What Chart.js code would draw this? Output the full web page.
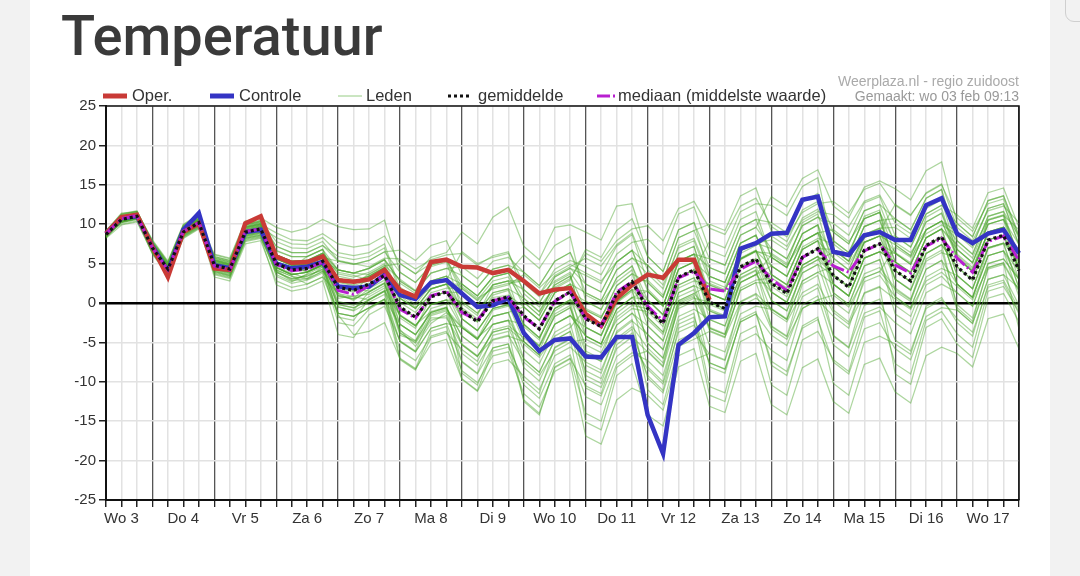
<!DOCTYPE html>
<html>
<head>
<meta charset="utf-8">
<script src="https://cdn.jsdelivr.net/npm/chart.js@4.4.0/dist/chart.umd.min.js"></script>
<style>
  html, body { margin: 0; padding: 0; }
  body { width: 1080px; height: 576px; background: #f2f2f2; position: relative; overflow: hidden; }
  #card { position: absolute; left: 30px; top: 0; width: 1020px; height: 576px; background: #fff; }
  #corner { position: absolute; left: 1065px; top: -30px; width: 40px; height: 50px; border: 1px solid #cfcfcf; border-radius: 9px; }
  #chart { position: absolute; left: 0; top: 0; }
</style>
</head>
<body>
<div id="card"></div>
<div id="corner"></div>
<canvas id="chart" width="1080" height="576"></canvas>
<script>
// day labels, one per day (placed at 12h)
const dayLabels = ["Wo 3", "Do 4", "Vr 5", "Za 6", "Zo 7", "Ma 8", "Di 9", "Wo 10",
  "Do 11", "Vr 12", "Za 13", "Zo 14", "Ma 15", "Di 16", "Wo 17"];

// 6-hourly values, first point Wo 3 06h
const oper = [8.8,10.9,11.2, 7.1,3.3,9.0,10.1, 4.4,4.2,10.1,11.0, 5.9,5.1,5.2,5.9, 2.9,2.7,3.0,4.2,
  1.6,0.8,5.2,5.5, 4.6,4.5,3.8,4.2, 2.8,1.2,1.7,1.9, -1.4,-2.9,0.6,2.3, 3.6,3.2,5.5,5.5, 0.4];

const controle = [8.8,10.8,11.0, 7.2,4.0,9.3,11.4, 4.8,4.4,9.0,9.3, 5.0,4.4,4.6,5.2, 2.1,1.9,2.1,3.6,
  1.0,0.5,2.6,2.9, 1.2,-0.5,-0.3,0.6, -3.8,-6.1,-4.7,-4.5, -6.8,-6.9,-4.3,-4.3, -14.2,-19.1,-5.3,-3.8,
  -1.8,-1.7,6.9,7.6, 8.8,8.9,13.1,13.5, 6.5,6.1,8.6,9.0, 8.0,8.0,12.4,13.3, 8.8,7.6,8.8,9.3, 6.3];

const gemiddelde = [8.7,10.6,11.0, 7.0,4.3,9.0,10.2, 4.8,4.3,9.0,9.4, 5.0,4.2,4.4,5.3, 2.0,1.6,2.4,3.5,
  -0.5,-1.8,0.8,1.4, -0.9,-2.4,0.3,0.8, -1.6,-3.3,0.3,1.4, -2.0,-3.0,1.2,2.7, -0.7,-2.6,3.3,4.2,
  0.1,-0.7,4.6,5.6, 2.5,1.2,5.8,6.9, 3.5,2.0,6.7,7.5, 4.1,2.8,7.3,8.4, 4.6,2.9,8.0,8.6, 4.1];

const mediaan = [8.8,10.7,11.1, 7.0,4.2,9.1,10.2, 4.7,4.2,9.1,9.4, 4.9,4.1,4.3,5.2, 1.6,1.1,2.2,3.5,
  -0.8,-1.9,0.9,1.5, -1.2,-2.2,0.3,0.7, -1.8,-3.2,0.2,1.4, -2.0,-2.9,1.4,2.7, -0.4,-2.3,3.2,4.0,
  1.8,1.5,4.3,5.3, 3.0,1.6,5.8,6.8, 4.7,3.9,6.6,7.5, 4.8,3.8,7.2,8.2, 5.7,3.9,7.8,8.5, 5.4];

// ensemble members (leden)
const lid01 = [8.9,10.8,11.2, 7.3,4.6,9.3,10.5, 4.4,3.9,8.6,9.0, 6.1,5.3,5.4,6.3, 4.2,3.8,4.4,5.5, 2.8,1.5,3.8,4.4, 4.6,3.1,5.3,5.8, 3.9,2.2,5.3,6.4, 1.3,0.3,4.2,5.7, 3.7,1.8,7.3,8.2, 3.4,2.6,7.6,8.6, 4.7,3.4,7.8,8.9, 4.6,3.1,7.7,8.5, 7.4,6.0,10.3,11.4, 6.8,5.1,10.0,10.6, 6.3];
const lid02 = [8.4,10.3,10.7, 6.5,3.8,8.5,9.7, 3.8,3.3,8.0,8.4, 3.9,3.1,3.4,4.3, -1.3,-1.7,-0.6,0.5, -6.0,-7.3,-4.2,-3.6, -8.6,-10.1,-6.7,-6.2, -11.5,-13.2,-8.7,-7.6, -16.9,-17.9,-12.3,-10.8, -11.7,-13.6,-6.7,-5.8, -13.1,-13.9,-7.4,-6.4, -12.9,-14.2,-8.2,-7.1, -12.5,-14.0,-7.8,-7.0, -11.3,-12.7,-6.7,-5.6, -6.4,-8.1,-2.0,-1.4, -5.8];
const lid03 = [8.7,10.6,11.1, 7.5,4.8,9.5,10.7, 5.6,5.1,9.8,10.2, 5.2,4.6,4.0,4.9, 3.1,2.7,3.4,4.5, 1.7,0.4,2.8,3.4, -0.9,-2.4,0.3,0.8, -3.8,-5.5,-1.7,-0.6, -6.4,-7.4,-2.8,-1.3, -4.0,-5.9,0.3,1.2, 2.3,1.5,6.6,7.6, 6.9,5.6,9.8,10.9, 9.0,7.5,11.7,12.5, 7.4,6.0,10.3,11.4, 5.7,4.0,9.0,9.6, 4.1];
const lid04 = [8.5,10.3,10.8, 6.7,4.0,8.7,9.9, 5.3,4.8,9.5,9.9, 4.5,3.6,3.9,4.8, 0.9,0.5,1.4,2.5, -2.7,-4.0,-1.2,-0.6, -5.3,-6.8,-3.7,-3.2, -7.1,-8.8,-4.7,-3.6, -8.6,-9.6,-4.8,-3.3, -9.5,-11.4,-4.7,-3.8, -6.5,-7.3,-1.4,-0.4, -0.8,-2.1,2.8,3.9, 2.4,0.9,5.7,6.5, 5.2,3.8,8.3,9.4, 6.8,5.1,10.0,10.6, 7.4];
const lid05 = [9.1,11.4,11.6, 7.8,5.1,9.8,11.0, 5.4,4.9,9.6,10.0, 8.9,8.0,7.9,8.8, 7.5,7.1,7.4,8.5, 5.0,3.7,5.8,6.4, 9.0,7.5,10.9,12.2, 7.2,5.5,9.6,9.9, 9.0,8.0,12.3,12.6, 5.9,4.0,9.3,10.2, 5.6,4.8,9.6,10.6, 10.2,8.9,12.8,13.9, 9.0,7.5,11.7,12.5, 10.7,9.3,13.3,14.4, 7.9,6.2,11.0,11.6, 8.5];
const lid06 = [8.8,10.0,10.4, 6.4,3.7,8.4,9.6, 4.0,3.5,8.2,8.6, 3.9,3.1,3.4,4.3, -0.2,-0.6,0.4,1.5, -1.6,-2.9,-0.2,0.4, 0.2,-1.3,1.3,1.8, 0.6,-1.1,2.3,3.4, -0.9,-1.9,2.2,3.7, -1.8,-3.7,2.3,3.2, -3.2,-4.0,1.6,2.6, -3.0,-4.3,0.8,1.9, -4.2,-5.7,-0.3,0.5, -4.7,-6.1,-0.7,0.4, -2.0,-3.7,2.0,2.6, -1.4];
const lid07 = [8.6,10.8,11.2, 7.2,4.5,9.2,10.4, 4.6,4.1,8.8,9.2, 5.6,4.8,4.9,5.8, 2.0,1.6,2.4,3.5, -1.6,-2.9,-0.2,0.4, -3.1,-4.6,-1.7,-1.2, -0.5,-2.2,1.3,2.4, 1.3,0.3,4.2,5.7, 4.8,2.9,8.3,9.2, 10.0,9.2,13.6,14.6, 9.1,7.8,11.8,12.9, 7.9,6.4,10.7,11.5, 6.3,4.9,9.3,10.4, 7.9,6.2,11.0,11.6, 5.2];
const lid08 = [9.0,10.7,11.1, 7.1,4.4,9.1,10.3, 5.9,5.4,10.0,10.4, 3.4,2.5,2.9,3.8, -1.5,-4.0,-3.6,-2.5, -7.1,-8.4,-5.2,-4.6, -9.7,-11.2,-7.7,-7.2, -9.3,-11.0,-6.7,-5.6, -7.5,-8.5,-3.8,-2.3, -4.0,-5.9,0.3,1.2, -1.0,-1.8,3.6,4.6, 3.6,2.3,6.8,7.9, 5.7,4.2,8.7,9.5, 4.1,2.7,7.3,8.4, 2.4,0.7,6.0,6.6, 3.0];
const lid09 = [8.3,10.4,10.8, 6.8,4.1,8.8,10.0, 5.1,4.6,9.3,9.7, 6.1,5.3,5.4,6.3, 3.1,2.7,3.4,4.5, -0.5,-1.8,0.8,1.4, 1.3,-0.2,2.3,2.8, 2.8,1.1,4.3,5.4, 4.6,3.6,7.2,8.7, 2.6,0.7,6.3,7.2, 0.1,-0.7,4.6,5.6, 0.3,-1.0,3.8,4.9, 3.5,2.0,6.7,7.5, 6.3,4.9,9.3,10.4, 9.0,7.3,12.0,12.6, 7.4];
const lid10 = [8.9,11.2,11.6, 7.6,4.9,9.6,10.8, 4.2,3.7,8.4,8.8, 5.0,4.2,4.4,5.3, 0.9,0.5,1.4,2.5, -3.8,-5.1,-2.2,-1.6, -6.4,-7.9,-4.7,-4.2, -4.9,-6.6,-2.7,-1.6, -4.2,-5.2,-0.8,0.7, 0.4,-1.5,4.3,5.2, 3.4,2.6,7.6,8.6, 3.6,2.3,6.8,7.9, 1.3,-0.2,4.7,5.5, -0.3,-1.7,3.3,4.4, 3.5,1.8,7.0,7.6, 5.2];
const lid11 = [9.2,11.3,11.6, 8.0,5.3,10.0,11.2, 5.0,4.5,9.2,9.6, 5.6,4.8,4.9,5.8, 5.3,4.9,5.4,6.5, 3.9,2.6,4.8,5.4, 2.4,0.9,3.3,3.8, -0.5,-2.2,1.3,2.4, -3.1,-4.1,0.2,1.7, 1.5,-0.4,5.3,6.2, 4.5,3.7,8.6,9.6, 13.5,12.2,15.8,16.9, 12.3,10.8,14.7,15.5, 14.5,13.1,16.8,17.9, 10.1,8.4,13.0,13.6, 8.5];
const lid12 = [8.5,10.9,11.3, 7.4,4.7,9.4,10.6, 3.6,3.1,7.8,8.2, 4.5,3.6,3.9,4.8, -0.5,-1.0,0.1,1.1, -4.9,-6.2,-3.2,-2.6, -7.5,-9.0,-5.7,-5.2, -10.4,-12.1,-7.7,-6.6, -11.9,-12.9,-7.8,-6.3, -7.3,-9.2,-2.7,-1.8, -7.6,-8.4,-2.4,-1.4, -7.4,-8.7,-3.2,-2.1, -7.5,-9.0,-3.3,-2.5, -5.8,-7.2,-1.7,-0.6, -0.9,-2.6,3.0,3.6, 1.9];
const lid13 = [8.8,10.5,10.9, 6.9,4.2,8.9,10.1, 6.1,5.6,10.3,10.7, 6.7,5.9,5.9,6.8, 4.2,3.8,4.4,5.5, 0.6,-0.7,1.8,2.4, -2.0,-3.5,-0.7,-0.2, -1.6,-3.3,0.3,1.4, 0.2,-0.8,3.2,4.7, 0.4,-1.5,4.3,5.2, -2.1,-2.9,2.6,3.6, 1.4,0.1,4.8,5.9, 4.6,3.1,7.7,8.5, 3.0,1.6,6.3,7.4, 4.6,2.9,8.0,8.6, 3.0];
const lid14 = [9.0,10.4,10.8, 6.2,3.5,8.2,9.4, 5.2,4.7,9.4,9.8, 4.2,3.4,3.0,4.0, 2.0,1.6,2.4,3.5, 0.6,-0.7,1.8,2.4, 2.4,0.9,3.3,3.8, 0.6,-1.1,2.3,3.4, -3.1,-4.1,0.2,1.7, -5.1,-7.0,-0.7,0.2, -5.4,-6.2,-0.4,0.6, -0.8,-2.1,2.8,3.9, 4.6,3.1,7.7,8.5, 8.5,7.1,11.3,12.4, 10.1,8.4,13.0,13.6, 8.5];
const lid15 = [8.4,10.9,11.3, 7.3,4.6,9.3,10.5, 4.5,4.0,8.7,9.1, 5.3,4.0,4.8,5.7, -0.2,-0.6,0.4,1.5, -3.4,-5.5,-2.6,-1.2, -3.1,-4.6,-1.7,-1.2, -6.0,-7.7,-3.7,-2.6, -9.7,-10.7,-5.8,-4.3, -6.2,-8.1,-1.7,-0.8, -2.1,-2.9,2.6,3.6, 4.7,3.4,7.8,8.9, 6.8,5.3,9.7,10.5, 5.2,3.8,8.3,9.4, 3.5,1.8,7.0,7.6, 1.9];
const lid16 = [9.1,11.1,11.5, 7.5,4.8,9.5,10.7, 6.2,5.7,10.4,10.8, 9.6,9.0,9.5,10.6, 9.7,9.3,9.4,10.5, 3.9,2.6,4.8,5.4, 1.3,-0.2,2.3,2.8, 1.7,0.0,3.3,4.4, 3.5,2.5,6.2,7.7, 8.1,6.2,11.3,12.2, 6.7,5.9,10.6,11.6, 5.8,4.5,8.8,9.9, 5.7,4.2,8.7,9.5, 9.6,8.2,12.3,13.4, 9.0,7.3,12.0,12.6, 7.4];
const lid17 = [8.7,10.2,10.6, 6.6,3.9,8.6,9.8, 3.3,2.8,7.5,7.9, 2.8,2.0,2.4,3.3, -1.3,-1.7,-0.6,0.5, -2.7,-4.0,-1.2,-0.6, -4.2,-5.7,-2.7,-2.2, -8.2,-9.9,-5.7,-4.6, -6.4,-7.4,-2.8,-1.3, -2.9,-4.8,1.3,2.2, 1.2,0.4,5.6,6.6, 5.8,4.5,8.8,9.9, 2.4,0.9,5.7,6.5, 0.8,-0.6,4.3,5.4, -0.9,-2.6,3.0,3.6, -0.3];
const lid18 = [8.9,11.3,11.7, 7.7,5.0,9.7,10.9, 5.7,5.2,9.9,10.3, 5.6,4.8,4.9,5.8, 3.1,2.7,3.4,4.5, 1.7,0.4,2.8,3.4, 0.2,-1.3,1.3,1.8, -2.7,-4.4,-0.7,0.4, -2.0,-3.0,1.2,2.7, -2.9,-4.8,1.3,2.2, -3.2,-4.0,1.6,2.6, 2.5,1.2,5.8,6.9, 6.8,5.3,9.7,10.5, 10.7,9.3,13.3,14.4, 6.8,5.1,10.0,10.6, 4.1];
const lid19 = [8.6,10.7,11.1, 7.1,4.4,9.1,10.3, 5.4,4.9,9.6,10.0, 4.5,3.6,3.9,4.8, 1.2,0.3,1.8,2.9, -0.5,-1.8,0.8,1.4, -2.0,-3.5,-0.7,-0.2, -3.8,-5.5,-1.7,-0.6, -5.3,-6.3,-1.8,-0.3, -0.7,-2.6,3.3,4.2, 2.3,1.5,6.6,7.6, 8.0,6.7,10.8,11.9, 7.9,6.4,10.7,11.5, 4.1,2.7,7.3,8.4, 2.4,0.7,6.0,6.6, 0.8];
const lid20 = [9.0,10.4,10.8, 6.8,4.1,8.8,10.0, 4.3,3.8,8.5,8.9, 6.1,5.3,5.4,6.3, 4.2,3.8,4.4,5.5, 2.8,1.5,3.8,4.4, 3.5,2.0,4.3,4.8, 1.7,0.0,3.3,4.4, 2.4,1.4,5.2,6.7, 1.5,-0.4,5.3,6.2, 1.2,0.4,5.6,6.6, 1.4,0.1,4.8,5.9, 0.2,-1.3,3.7,4.5, 1.9,0.5,5.3,6.4, 5.7,4.0,9.0,9.6, 6.3];
const lid21 = [8.7,10.7,11.1, 7.2,4.5,9.2,10.4, 4.9,4.4,9.1,9.5, 5.0,4.2,4.4,5.3, 0.6,0.9,1.1,2.2, -1.6,-2.9,-0.2,0.4, -0.9,-2.4,0.3,0.8, -2.7,-4.4,-0.7,0.4, -4.2,-5.2,-0.8,0.7, -1.8,-3.7,2.3,3.2, 0.1,-0.7,4.6,5.6, 1.4,0.1,4.8,5.9, 3.5,2.0,6.7,7.5, 3.0,1.6,6.3,7.4, 4.6,2.9,8.0,8.6, 4.1];
const lid22 = [8.5,10.6,11.0, 7.0,4.3,9.0,10.2, 5.0,4.5,9.2,9.6, 5.6,4.8,4.9,5.8, 2.6,2.2,2.9,4.0, 0.6,-0.7,1.8,2.4, -0.6,-2.0,0.7,1.0, -0.5,-2.2,1.3,2.4, -2.0,-3.0,1.2,2.7, 0.4,-1.5,4.3,5.2, 1.2,0.4,5.6,6.6, 2.5,1.2,5.8,6.9, 4.6,3.1,7.7,8.5, 4.1,2.7,7.3,8.4, 5.7,4.0,9.0,9.6, 5.2];
const lid23 = [8.8,10.3,10.7, 6.7,4.0,8.7,9.9, 5.5,5.0,9.7,10.1, 4.0,2.8,3.1,4.6, 0.2,-0.3,0.8,1.9, -4.1,-4.8,-1.9,-1.9, -5.3,-6.8,-3.7,-3.2, -4.9,-6.6,-2.7,-1.6, -3.1,-4.1,0.2,1.7, -0.7,-2.6,3.3,4.2, -1.0,-1.8,3.6,4.6, 0.3,-1.0,3.8,4.9, -0.9,-2.4,2.7,3.5, 0.8,-0.6,4.3,5.4, 2.4,0.7,6.0,6.6, 4.1];
const lid24 = [9.2,11.0,11.4, 7.4,4.7,9.4,10.6, 5.9,5.4,10.1,10.5, 7.2,6.4,6.4,7.3, 5.3,4.9,5.4,6.5, 6.7,5.4,7.3,7.9, 3.5,2.0,4.3,4.8, 3.9,2.2,5.3,6.4, 2.4,1.4,5.2,6.7, 4.8,2.9,8.3,9.2, 4.5,3.7,8.6,9.6, 6.9,5.6,9.8,10.9, 10.1,8.6,12.7,13.5, 8.5,7.1,11.3,12.4, 11.2,9.5,14.0,14.6, 9.6];
const lid25 = [8.2,9.9,10.3, 6.3,3.6,8.3,9.5, 4.7,4.2,8.9,9.3, 4.7,4.4,4.0,4.9, 2.0,1.6,2.4,3.5, -2.7,-4.0,-1.2,-0.6, -4.2,-5.7,-2.7,-2.2, -2.7,-4.4,-0.7,0.4, -0.9,-1.9,2.2,3.7, 2.6,0.7,6.3,7.2, 1.2,0.4,5.6,6.6, 4.7,3.4,7.8,8.9, 2.4,0.9,5.7,6.5, 6.3,4.9,9.3,10.4, 5.7,4.0,9.0,9.6, 6.3];
const lid26 = [8.9,11.2,11.6, 7.9,5.2,9.9,11.1, 3.9,3.4,8.1,8.5, 3.6,2.7,3.7,4.6, -1.3,-1.7,-0.6,0.5, -4.9,-6.2,-3.2,-2.6, -3.1,-4.6,-1.7,-1.2, -7.1,-8.8,-4.7,-3.6, -10.8,-11.8,-6.8,-5.3, -8.4,-10.3,-3.7,-2.8, -7.6,-8.4,-2.4,-1.4, -4.1,-5.4,-0.2,0.9, -5.3,-6.8,-1.3,-0.5, -2.5,-3.9,1.3,2.4, 1.3,-0.4,5.0,5.6, 3.0];
const lid27 = [9.0,10.9,11.3, 6.8,4.1,8.8,10.0, 5.3,4.8,9.5,9.9, 7.2,6.4,6.4,7.3, 5.9,5.5,5.9,7.0, 1.2,-0.2,2.3,2.9, -2.0,-3.5,-0.7,-0.2, -4.9,-6.6,-2.7,-1.6, -4.2,-5.2,-0.8,0.7, 1.5,-0.4,5.3,6.2, 5.6,4.8,9.6,10.6, 5.8,4.5,8.8,9.9, 1.3,-0.2,4.7,5.5, -1.4,-2.7,2.3,3.4, 1.3,-0.4,5.0,5.6, 3.0];
const lid28 = [8.3,10.2,10.6, 7.3,4.6,9.3,10.5, 4.1,3.6,8.3,8.7, 4.2,3.4,2.4,3.3, 1.2,0.8,0.4,1.5, 2.5,1.2,2.3,2.9, 6.5,5.0,5.8,6.3, 2.5,0.8,2.8,3.9, 1.0,0.0,2.7,4.2, -2.1,-4.0,0.8,1.7, -3.5,-4.3,0.1,1.1, -3.3,-4.6,-0.7,0.4, 1.0,-0.5,3.2,4.0, 7.1,5.8,8.8,9.9, 8.7,7.0,10.5,11.1, 9.3];
const lid29 = [8.8,10.7,11.1, 7.6,4.9,9.6,10.8, 5.1,4.6,9.3,9.7, 5.3,4.5,5.9,6.8, 1.8,1.4,3.4,4.5, -1.9,-3.2,0.8,1.4, -0.1,-1.6,2.3,2.8, -3.0,-4.7,0.3,1.4, -6.1,-7.1,-1.3,0.2, -8.1,-10.0,-2.2,-1.3, -10.6,-11.4,-3.9,-2.9, -10.4,-11.7,-4.7,-3.6, -7.2,-8.7,-1.8,-1.0, -7.7,-9.0,-2.2,-1.1, -3.9,-5.6,1.5,2.1, -1.1];
const lid30 = [8.6,10.5,10.9, 6.5,3.8,8.5,9.7, 5.7,5.2,9.9,10.3, 6.1,5.3,4.6,5.5, 4.2,3.8,3.6,4.7, 5.0,3.7,5.0,5.6, 1.8,0.3,2.0,2.5, 2.8,1.1,3.5,4.6, 5.7,4.7,7.4,8.9, 4.2,2.3,7.0,7.9, 2.8,2.0,6.3,7.3, 8.5,7.2,10.5,11.6, 11.2,9.7,12.9,13.7, 10.1,8.8,12.0,13.1, 6.2,4.5,8.7,9.3, 4.6];
const lid31 = [8.9,10.8,11.2, 7.1,4.4,9.1,10.3, 3.7,3.2,7.9,8.3, 2.3,1.5,1.9,2.8, -4.0,-4.4,-1.5,-0.4, -4.8,-6.1,-1.6,-1.0, -7.4,-8.9,-4.1,-3.6, -12.5,-14.2,-8.1,-7.0, -14.0,-15.0,-8.2,-6.7, -6.1,-8.0,-0.1,0.8, -3.1,-3.9,3.2,4.2, -2.9,-4.2,2.4,3.5, -4.1,-5.6,1.3,2.1, -9.0,-10.3,-3.1,-2.0, -5.2,-6.9,0.6,1.2, -2.4];
const lid32 = [8.4,10.3,10.7, 7.4,4.7,9.4,10.6, 5.0,4.5,9.2,9.6, 8.3,7.5,7.4,8.3, 6.4,6.0,6.4,7.5, 1.7,0.4,2.8,3.4, 2.4,0.9,3.3,3.8, 6.1,4.4,7.3,8.4, 0.2,-0.8,3.2,4.7, -0.7,-2.6,3.3,4.2, 7.8,7.0,11.6,12.6, 12.4,11.1,14.8,15.9, 6.8,5.3,9.7,10.5, 5.2,3.9,8.3,9.4, 3.5,1.8,7.0,7.6, 6.3];
const lid33 = [9.1,11.0,11.4, 6.6,3.9,8.6,9.8, 5.4,4.9,9.6,10.0, 5.7,4.9,4.0,4.9, 2.2,1.8,1.5,2.6, -1.5,-2.8,-1.1,-0.5, -5.2,-6.7,-4.6,-4.1, -7.5,-9.2,-6.1,-5.0, -4.6,-5.6,-2.2,-0.7, -1.1,-3.0,1.9,2.8, 2.5,1.7,5.7,6.7, 2.1,0.8,4.4,5.5, 6.4,4.9,8.3,9.1, 12.5,11.2,13.9,15.0, 10.8,9.1,12.6,13.2, 8.1];
const lid34 = [8.7,10.5,11.1, 7.8,5.1,9.8,11.0, 4.4,3.9,8.6,9.0, 6.6,5.9,5.9,6.8, 2.7,2.3,3.7,4.8, 3.0,1.6,4.6,5.2, -0.8,-2.3,1.0,1.6, -3.7,-5.4,-1.0,0.2, -7.9,-8.9,-3.6,-2.1, -11.0,-12.9,-5.5,-4.6, -3.6,-4.4,1.9,2.9, 3.2,1.9,7.1,8.2, 7.5,6.0,11.0,11.8, 1.5,0.2,5.6,6.7, -0.2,-1.9,4.3,4.9, 1.5];
const lid35 = [8.5,10.4,10.8, 6.9,4.2,8.9,10.1, 5.2,4.7,9.4,9.8, 4.5,3.6,3.9,4.8, -1.8,-2.2,0.5,1.6, -7.0,-8.3,-3.6,-3.0, -9.6,-11.1,-6.1,-5.6, -9.8,-11.5,-5.6,-4.5, -15.1,-16.1,-9.2,-7.7, -14.2,-15.6,-8.1,-7.2, -6.4,-7.2,0.2,1.2, -0.7,-2.0,4.4,5.5, 3.6,2.1,8.3,9.1, 6.4,5.1,10.9,12.0, 5.8,4.1,10.6,11.2, 4.2];
const lid36 = [9.0,10.9,11.3, 7.2,4.5,9.2,10.4, 5.8,5.3,10.0,10.4, 7.8,7.0,6.9,7.8, 5.4,5.0,4.6,5.7, 5.6,4.3,5.5,6.1, 6.3,4.8,6.0,6.5, 1.2,-0.5,2.0,3.1, 6.3,5.3,7.9,9.4, 9.8,7.9,12.0,12.9, 9.5,8.7,12.3,13.3, 9.7,8.4,11.5,12.6, 12.9,11.4,14.4,15.2, 12.4,11.1,14.0,15.1, 9.6,7.9,11.7,12.3, 10.2];
const lid37 = [8.4,10.3,10.7, 6.4,3.7,8.4,9.6, 4.6,4.1,8.8,9.2, 4.6,3.8,3.1,4.0, 3.4,3.0,2.4,3.5, 0.9,-0.5,0.8,1.4, -2.9,-4.4,-2.7,-2.2, -5.2,-6.9,-4.2,-3.1, -0.7,-1.7,1.2,2.7, 2.9,1.0,5.3,6.2, -0.2,-1.0,3.1,4.1, -1.1,-2.4,1.3,2.4, -1.2,-2.7,1.2,2.0, 0.5,-0.8,2.8,3.9, 2.1,0.4,4.5,5.1, 1.6];
const lid38 = [8.9,10.8,11.2, 7.5,4.8,9.5,10.7, 4.3,3.8,8.5,8.9, 5.6,4.8,4.9,5.8, 1.0,0.6,2.2,3.3, -3.8,-5.0,-1.4,-0.8, -3.1,-4.5,-0.9,-0.4, 0.1,-1.6,2.6,3.7, -4.2,-5.2,0.0,1.5, -5.1,-7.0,0.1,1.0, -8.1,-8.9,-2.1,-1.1, -7.9,-9.2,-2.9,-1.8, -10.2,-11.7,-5.0,-4.2, -5.2,-6.5,-0.4,0.7, -2.5,-4.2,2.3,2.9, -0.8];
const lid39 = [8.6,10.6,11.0, 6.7,4.0,8.7,9.9, 5.5,5.0,9.7,10.1, 6.1,5.3,5.4,6.3, 3.7,3.3,3.9,5.0, 0.1,-1.2,1.3,1.9, 1.9,0.4,2.8,3.3, 0.1,-1.6,1.8,2.9, 6.8,5.8,9.2,10.7, 5.9,4.0,9.3,10.2, 3.4,2.6,7.6,8.6, 3.6,2.3,6.8,7.9, 2.4,0.9,5.7,6.5, 5.2,3.9,8.3,9.4, 7.4,5.7,10.5,11.1, 5.8];
const lid40 = [8.6,10.5,10.9, 7.3,4.6,9.3,10.5, 4.5,4.0,8.7,9.1, 4.1,2.9,3.6,4.1, -2.5,-2.9,-0.8,0.4, -7.2,-8.5,-4.4,-3.8, -5.9,-7.4,-3.4,-2.9, -4.4,-6.1,-1.4,-0.3, -9.2,-10.2,-4.5,-3.0, -5.7,-7.6,-0.4,0.6, 0.1,-0.8,5.5,6.5, 6.3,5.0,10.2,11.3, 4.6,3.1,8.6,9.4, 3.0,1.7,7.2,8.3, 2.4,0.7,6.9,7.5, 1.9];
const lid41 = [8.8,10.7,11.1, 6.8,4.1,8.8,10.0, 4.9,4.4,9.1,9.5, 5.6,4.8,4.9,5.8, 3.9,3.5,2.9,4.0, 2.0,0.7,1.8,2.4, 2.1,0.6,1.8,2.3, 3.6,1.9,3.8,4.9, 3.8,2.8,5.2,6.7, 1.8,-0.2,4.3,5.2, -0.8,-1.6,2.6,3.6, 6.1,4.8,7.8,8.9, 9.3,7.8,10.7,11.5, 7.7,6.4,9.3,10.4, 6.0,4.3,8.0,8.6, 4.4];
const lid42 = [8.5,10.4,10.8, 7.1,4.4,9.1,10.3, 4.0,3.5,8.2,8.6, 4.5,3.6,3.9,4.8, -0.5,-0.9,1.4,2.5, -3.5,-4.8,-0.7,-0.1, -8.9,-10.4,-5.7,-5.2, -12.3,-14.0,-8.2,-7.1, -10.5,-11.5,-5.3,-3.8, -9.2,-11.1,-3.2,-2.3, -11.7,-12.5,-4.9,-3.9, -6.0,-7.3,-0.7,0.4, -1.7,-3.2,3.2,4.0, 1.7,0.4,6.3,7.4, -0.6,-2.3,4.5,5.1, -3.3];

const leden = [lid01, lid02, lid03, lid04, lid05, lid06, lid07, lid08, lid09, lid10, lid11, lid12, lid13, lid14,
  lid15, lid16, lid17, lid18, lid19, lid20, lid21, lid22, lid23, lid24, lid25, lid26, lid27, lid28,
  lid29, lid30, lid31, lid32, lid33, lid34, lid35, lid36, lid37, lid38, lid39, lid40, lid41, lid42];

// x labels: a day name on the 12h point of every day, blank elsewhere
const xLabels = gemiddelde.map((v, i) => i % 4 === 1 ? dayLabels[(i - 1) / 4] : "");

const FONT = '"Liberation Sans", Arial, sans-serif';

// title, legend, source text and the plot frame
const decor = {
  id: "decor",
  afterDraw(chart) {
    const ctx = chart.ctx;
    const a = chart.chartArea;
    ctx.save();

    // frame top + right
    ctx.strokeStyle = "#111";
    ctx.lineWidth = 1.5;
    ctx.beginPath();
    ctx.moveTo(a.left, a.top);
    ctx.lineTo(a.right, a.top);
    ctx.lineTo(a.right, a.bottom);
    ctx.stroke();

    // title
    ctx.fillStyle = "#3a3a3a";
    ctx.font = '500 56px Roboto, "Liberation Sans", sans-serif';
    ctx.textBaseline = "alphabetic";
    ctx.textAlign = "left";
    ctx.fillText("Temperatuur", 61, 55);

    // legend
    const y = 96;
    ctx.font = "16.5px " + FONT;
    ctx.textBaseline = "middle";
    ctx.fillStyle = "#333";
    const sample = (x1, x2, color, width, dash) => {
      ctx.beginPath();
      ctx.strokeStyle = color;
      ctx.lineWidth = width;
      ctx.setLineDash(dash || []);
      ctx.moveTo(x1, y);
      ctx.lineTo(x2, y);
      ctx.stroke();
      ctx.setLineDash([]);
    };
    sample(103, 127, "#c93a36", 5);
    ctx.fillText("Oper.", 132, y);
    sample(210, 234, "#3434c4", 5);
    ctx.fillText("Controle", 239, y);
    sample(338, 362, "rgba(80,170,50,0.6)", 1);
    ctx.fillText("Leden", 366, y);
    sample(448, 469, "#111", 3, [3, 3]);
    ctx.fillText("gemiddelde", 478, y);
    sample(597, 610, "#b81fd0", 3);
    sample(613, 615, "#b81fd0", 3);
    ctx.fillText("mediaan (middelste waarde)", 618, y);

    // source
    ctx.textAlign = "right";
    ctx.font = "14px " + FONT;
    ctx.fillStyle = "#aaa";
    ctx.fillText("Weerplaza.nl - regio zuidoost", 1019, 82);
    ctx.fillStyle = "#999";
    ctx.fillText("Gemaakt: wo 03 feb 09:13", 1019, 97);
    ctx.restore();
  }
};

const datasets = [
  { label: "gemiddelde", data: gemiddelde, borderColor: "#111", borderWidth: 3.2, borderDash: [3, 3], order: 0 },
  { label: "mediaan", data: mediaan, borderColor: "#b81fd0", borderWidth: 3, borderDash: [14, 3, 2, 3], order: 1 },
  { label: "Oper.", data: oper, borderColor: "#c93a36", borderWidth: 4.5, order: 2 },
  { label: "Controle", data: controle, borderColor: "#3434c4", borderWidth: 4.5, order: 3 }
];
leden.forEach((lid, n) => {
  datasets.push({ label: "Leden", data: lid, borderColor: "rgba(76,165,46,0.46)", borderWidth: 1.25, order: 4 + n });
});

new Chart(document.getElementById("chart"), {
  type: "line",
  data: { labels: xLabels, datasets: datasets },
  options: {
    responsive: false,
    animation: false,
    layout: { padding: { top: 106, right: 61, left: 0, bottom: 0 } },
    elements: { point: { radius: 0 }, line: { tension: 0 } },
    plugins: { legend: { display: false }, tooltip: { enabled: false } },
    scales: {
      x: {
        offset: false,
        afterFit: (scale) => { scale.height = 76; },
        border: { color: "#111", width: 2 },
        grid: {
          color: (c) => c.index % 4 === 3 ? "#555" : "#e2e2e2",
          lineWidth: (c) => c.index % 4 === 3 ? 1.3 : 1.5,
          tickColor: "#222",
          tickLength: 7
        },
        ticks: { autoSkip: false, maxRotation: 0, color: "#333", font: { size: 15, family: FONT }, padding: 3 }
      },
      y: {
        min: -25,
        max: 25,
        afterFit: (scale) => { scale.width = 106; },
        border: { color: "#111", width: 2 },
        grid: {
          color: (c) => c.tick && c.tick.value === 0 ? "#000" : "#e2e2e2",
          lineWidth: (c) => c.tick && c.tick.value === 0 ? 2.5 : 1.5,
          tickColor: "#222",
          tickLength: 7
        },
        ticks: { stepSize: 5, color: "#333", font: { size: 15, family: FONT }, padding: 3 }
      }
    }
  },
  plugins: [decor]
});
</script>
</body>
</html>
